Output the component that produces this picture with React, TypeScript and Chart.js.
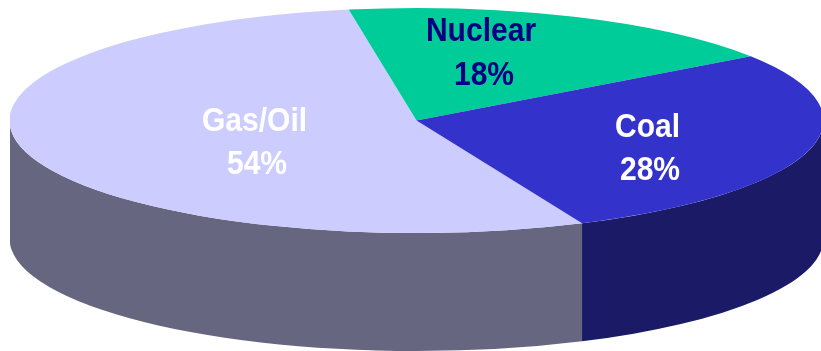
import React, { useEffect, useRef } from "react";
import { Chart, registerables } from "chart.js";

Chart.register(...registerables);

const categories = ["Gas/Oil", "Nuclear", "Coal"];
const shares = [54, 18, 28];
const topColors = ["#CCCCFF", "#00CC99", "#3333CC"];
const wallColors = ["#666680", "#0B7A5C", "#1A1A66"];
const labelColors = ["#FFFFFF", "#000080", "#FFFFFF"];

const WIDTH = 821;
const HEIGHT = 351;
const RADIUS_X = 407;
const RADIUS_Y = 112.5;
const DEPTH = 118;
const LEFT_EDGE = 10;
const FONT = 'bold 33px "Liberation Sans", Arial, sans-serif';
const TEXT_STRETCH = 0.91;

// [name line centre x, name baseline y, percent line centre x, percent baseline y]
const labelLayout = [
  [254.5, 131, 257, 173.5],
  [481, 41, 484, 84.5],
  [647.5, 136.5, 650, 180],
];

const squash = RADIUS_Y / RADIUS_X;

function drawLine(ctx: any, text: string, x: number, y: number) {
  ctx.save();
  ctx.translate(x, y);
  ctx.scale(TEXT_STRETCH, 1);
  ctx.fillText(text, 0, 0);
  ctx.restore();
}

const pie3d = {
  id: "pie3d",
  beforeDatasetsDraw(chart: any) {
    const ctx = chart.ctx;
    const arcs = chart.getDatasetMeta(0).data;
    ctx.save();
    ctx.beginPath();
    ctx.rect(LEFT_EDGE, 0, WIDTH - LEFT_EDGE, HEIGHT);
    ctx.clip();
    arcs.forEach((arc: any, i: number) => {
      const { x, y, startAngle, endAngle } = arc.getProps(["x", "y", "startAngle", "endAngle"]);
      for (let k = -1; k <= 2; k++) {
        const lo = Math.max(startAngle, 2 * Math.PI * k);
        const hi = Math.min(endAngle, 2 * Math.PI * k + Math.PI);
        if (hi <= lo) continue;
        ctx.beginPath();
        ctx.ellipse(x, y, RADIUS_X, RADIUS_Y, 0, lo, hi);
        ctx.ellipse(x, y + DEPTH, RADIUS_X, RADIUS_Y, 0, hi, lo, true);
        ctx.closePath();
        ctx.fillStyle = wallColors[i];
        ctx.fill();
      }
    });
    const { x, y } = arcs[0].getProps(["x", "y"]);
    ctx.translate(x, y);
    ctx.scale(1, squash);
    ctx.translate(-x, -y);
  },
  afterDatasetsDraw(chart: any) {
    const ctx = chart.ctx;
    ctx.restore();
    ctx.save();
    ctx.font = FONT;
    ctx.textAlign = "center";
    ctx.textBaseline = "alphabetic";
    categories.forEach((name, i) => {
      const [nx, ny, px, py] = labelLayout[i];
      ctx.fillStyle = labelColors[i];
      drawLine(ctx, name, nx, ny);
      drawLine(ctx, `${shares[i]}%`, px, py);
    });
    ctx.restore();
  },
};

export default function App() {
  const ref = useRef<HTMLCanvasElement>(null);

  useEffect(() => {
    const chart = new Chart(ref.current as HTMLCanvasElement, {
      type: "pie",
      data: {
        labels: categories,
        datasets: [
          {
            data: shares,
            backgroundColor: topColors,
            borderWidth: 0,
            radius: RADIUS_X,
            clip: false,
          } as any,
        ],
      },
      options: {
        responsive: false,
        animation: false,
        rotation: 156,
        layout: { padding: { left: 12, right: 0, top: 0, bottom: 110 } },
        plugins: { legend: { display: false }, tooltip: { enabled: false } },
      },
      plugins: [pie3d],
    });
    return () => chart.destroy();
  }, []);

  return (
    <canvas
      ref={ref}
      width={WIDTH}
      height={HEIGHT}
      style={{ position: "fixed", left: 0, top: 0, width: WIDTH, height: HEIGHT, display: "block" }}
    />
  );
}
